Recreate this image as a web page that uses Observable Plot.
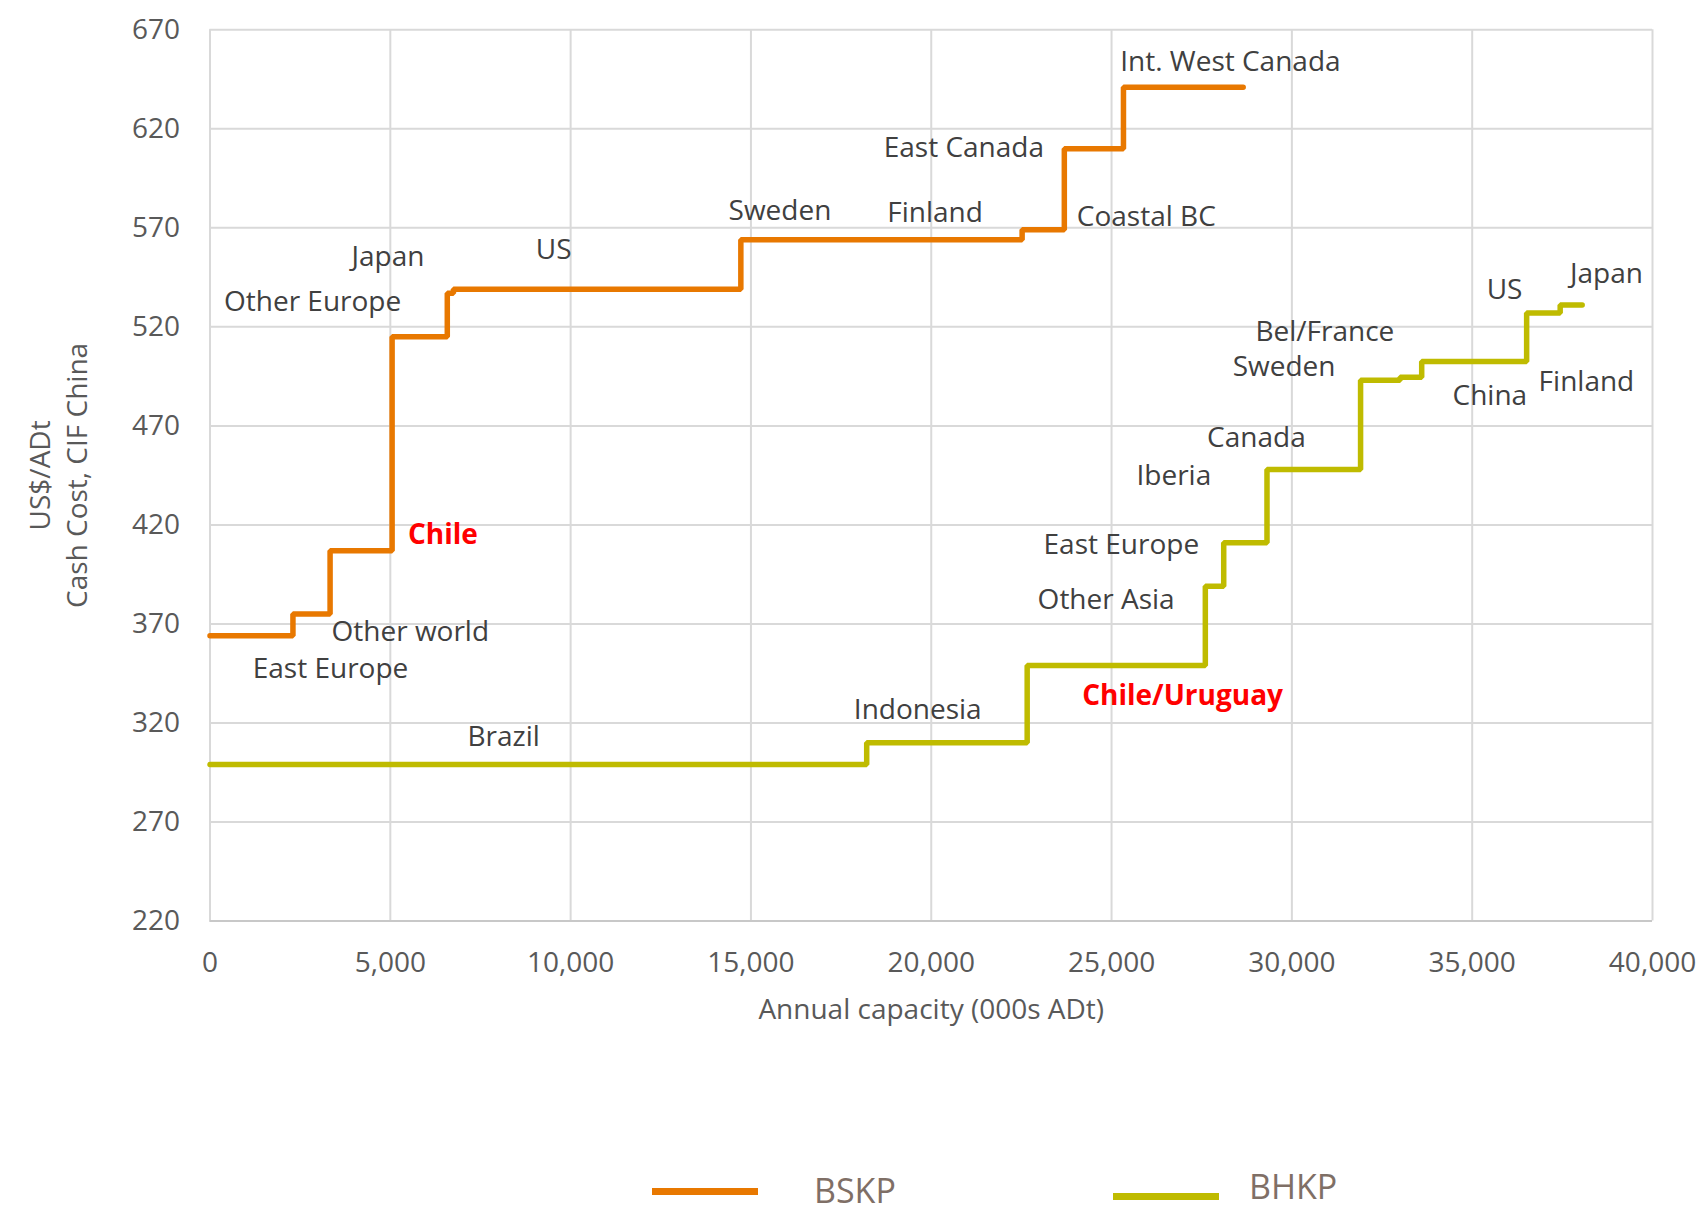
<!DOCTYPE html>
<html><head><meta charset="utf-8">
<script src="https://cdn.jsdelivr.net/npm/d3@7"></script>
<script src="https://cdn.jsdelivr.net/npm/@observablehq/plot@0.6"></script>
<style>
body{margin:0;background:#fff;font-family:"Open Sans",sans-serif;}
#wrap{position:relative;width:1702px;height:1213px;overflow:hidden;}
#wrap svg{position:absolute;left:0;top:0;}
.leg-line{position:absolute;height:7px;}
.leg-text{position:absolute;color:#7f6f66;font-size:34px;line-height:26px;height:26px;transform:translateY(-50%);white-space:nowrap;}
</style></head><body><div id="wrap"></div>
<script>
// BSKP (softwood) cash-cost curve: cumulative capacity breakpoints (000s ADt) and cost (US$/ADt)
const bskpCapacity = [0, 2300, 3330, 5050, 6580, 6750, 14720, 22520, 23690, 25330, 28650];
const bskpCost     = [364, 375, 407, 515, 537, 539, 564, 569, 610, 641, 641];
// BHKP (hardwood) cash-cost curve
const bhkpCapacity = [0, 18210, 22660, 27600, 28110, 29310, 31905, 33000, 33600, 36510, 37440, 38050];
const bhkpCost     = [299, 310, 349, 389, 411, 448, 493, 494.5, 502.5, 527, 531, 531];

// Region labels (anchor in data units)
const bskpLabels = ["Other Europe","Japan","US","Sweden","Finland","East Canada","Coastal BC","Int. West Canada","Chile","Other world","East Europe"];
const bskpLabelX = [2845, 4936, 9528, 15804, 20107, 20905, 25963, 28295, 6456, 5554, 3341];
const bskpLabelY = [532.4, 555.4, 558.7, 578.5, 577.3, 610.3, 575.7, 653.5, 415.1, 365.8, 347.1];
const bhkpLabels = ["Brazil","Indonesia","Chile/Uruguay","Other Asia","East Europe","Iberia","Canada","Sweden","Bel/France","China","Finland","US","Japan"];
const bhkpLabelX = [8142, 19625, 26970, 24849, 25271, 26727, 29017, 29785, 30914, 35490, 38168, 35898, 38724];
const bhkpLabelY = [312.7, 326.3, 333.5, 382.2, 409.6, 444.7, 463.9, 499.5, 517.6, 485.3, 491.9, 538.5, 546.7];
const highlighted = ["Chile", "Chile/Uruguay"];

const xTicks = [0, 5000, 10000, 15000, 20000, 25000, 30000, 35000, 40000];
const yTicks = [220, 270, 320, 370, 420, 470, 520, 570, 620, 670];
const xTitle = "Annual capacity (000s ADt)";
const yTitle1 = "US$/ADt";
const yTitle2 = "Cash Cost, CIF China";
const seriesNames = ["BSKP", "BHKP"];
const seriesColors = ["#e87800", "#bfbb00"];

const bskp = bskpCapacity.map((x, i) => ({x, y: bskpCost[i]}));
const bhkp = bhkpCapacity.map((x, i) => ({x, y: bhkpCost[i]}));
const labels = [
  ...bskpLabels.map((t, i) => ({t, x: bskpLabelX[i], y: bskpLabelY[i]})),
  ...bhkpLabels.map((t, i) => ({t, x: bhkpLabelX[i], y: bhkpLabelY[i]}))
];
const isHi = d => highlighted.includes(d.t);

const FONT = "'Open Sans', sans-serif";
const FS = 28;
const chart = Plot.plot({
  width: 1702,
  height: 1060,
  marginTop: 29.3,
  marginBottom: 139.5,
  marginLeft: 209.5,
  marginRight: 50,
  style: {fontFamily: FONT, fontSize: FS + "px", background: "white"},
  x: {domain: [0, 40000]},
  y: {domain: [220, 670]},
  marks: [
    Plot.gridY(yTicks, {stroke: "#d9d9d9", strokeOpacity: 1, strokeWidth: 2}),
    Plot.gridX(xTicks, {stroke: "#d9d9d9", strokeOpacity: 1, strokeWidth: 2}),
    Plot.ruleY([220], {stroke: "#c8c8c8", strokeWidth: 2}),
    Plot.axisY(yTicks, {tickSize: 0, tickPadding: 30, fontSize: FS, color: "#595959", label: null}),
    Plot.axisX(xTicks, {tickSize: 0, tickPadding: 31, fontSize: FS, color: "#595959", label: null, tickFormat: d3.format(",")}),
    Plot.text([xTitle], {frameAnchor: "bottom", dy: 89, text: d => d, fontSize: FS, fill: "#595959", textAnchor: "middle", lineAnchor: "middle"}),
    Plot.text([yTitle1], {frameAnchor: "left", dx: -168.5, rotate: -90, text: d => d, fontSize: FS, fill: "#595959", textAnchor: "middle", lineAnchor: "middle"}),
    Plot.text([yTitle2], {frameAnchor: "left", dx: -131.5, rotate: -90, text: d => d, fontSize: FS, fill: "#595959", textAnchor: "middle", lineAnchor: "middle"}),
    Plot.line(bhkp, {x: "x", y: "y", curve: "step-after", stroke: seriesColors[1], strokeWidth: 5.5, strokeLinejoin: "miter", strokeLinecap: "round"}),
    Plot.line(bskp, {x: "x", y: "y", curve: "step-after", stroke: seriesColors[0], strokeWidth: 5.5, strokeLinejoin: "miter", strokeLinecap: "round"}),
    Plot.text(labels.filter(d => !isHi(d)), {x: "x", y: "y", text: "t", fontSize: FS,
      fill: "#404040", textAnchor: "middle", lineAnchor: "middle"}),
    Plot.text(labels.filter(isHi), {x: "x", y: "y", text: "t", fontSize: FS,
      fill: "#ff0000", fontWeight: "bold", textAnchor: "middle", lineAnchor: "middle"})
  ]
});
const wrap = document.getElementById("wrap");
wrap.appendChild(chart);

// legend below the chart
const legendItems = [
  {name: seriesNames[0], color: seriesColors[0], lx: 652, lw: 106, ly: 1188, tx: 814, ty: 1190},
  {name: seriesNames[1], color: seriesColors[1], lx: 1113, lw: 106, ly: 1192.5, tx: 1249, ty: 1186}
];
for (const it of legendItems) {
  const l = document.createElement("div");
  l.className = "leg-line";
  l.style.left = it.lx + "px"; l.style.top = it.ly + "px"; l.style.width = it.lw + "px"; l.style.background = it.color;
  wrap.appendChild(l);
  const t = document.createElement("div");
  t.className = "leg-text";
  t.style.left = it.tx + "px"; t.style.top = it.ty + "px";
  t.textContent = it.name;
  wrap.appendChild(t);
}
</script></body></html>
